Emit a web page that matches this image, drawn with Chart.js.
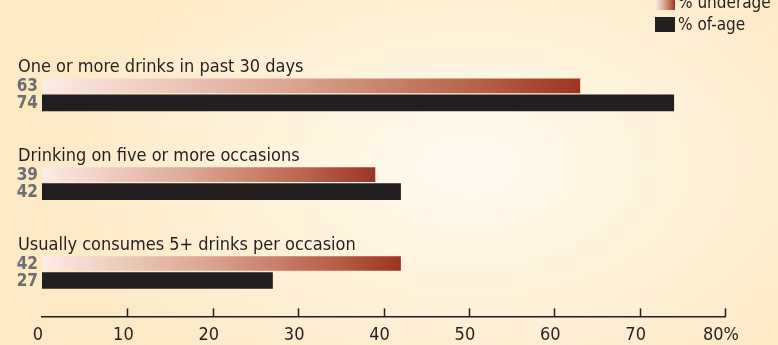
<!DOCTYPE html>
<html>
<head>
<meta charset="utf-8">
<script src="https://cdn.jsdelivr.net/npm/chart.js@4/dist/chart.umd.min.js"></script>
<style>
  html, body { margin: 0; padding: 0; }
  body {
    width: 778px; height: 345px; overflow: hidden;
    background: radial-gradient(ellipse 430px 260px at 470px 165px, #fffaf1 0%, #fff3dc 45%, #fde9c4 100%);
  }
  #wrap { position: relative; width: 778px; height: 345px; overflow: hidden; }
</style>
</head>
<body>
<div id="wrap"><canvas id="chart" width="778" height="354"></canvas></div>
<script>
const categories = [
  'One or more drinks in past 30 days',
  'Drinking on five or more occasions',
  'Usually consumes 5+ drinks per occasion'
];
const underage = [63, 39, 42];
const ofAge = [74, 42, 27];
const tickValues = [0, 10, 20, 30, 40, 50, 60, 70, 80];
const seriesNames = ['% underage', '% of-age'];

const FONT = '"DejaVu Sans Condensed", "Liberation Sans Narrow", sans-serif';
const INK = '#231f20';

function redGradient(c, x0, x1) {
  const g = c.createLinearGradient(x0, 0, x1, 0);
  g.addColorStop(0, '#fcece6');
  g.addColorStop(0.45, '#dca793');
  g.addColorStop(0.8, '#b9624a');
  g.addColorStop(1, '#9c3424');
  return g;
}

// labels over each group, values left of each bar, legend, axis ticks
const decorate = {
  id: 'decorate',
  afterDatasetsDraw(chart) {
    const c = chart.ctx;
    const xs = chart.scales.x;
    const m0 = chart.getDatasetMeta(0);
    const m1 = chart.getDatasetMeta(1);
    c.save();
    categories.forEach((cat, i) => {
      const b0 = m0.data[i], b1 = m1.data[i];
      c.fillStyle = INK;
      c.font = '18px ' + FONT;
      c.textAlign = 'left';
      c.textBaseline = 'alphabetic';
      c.fillText(cat, 18, b0.y - b0.height / 2 - 7);
      c.fillStyle = '#6d6e71';
      c.font = 'bold 17px ' + FONT;
      c.textAlign = 'right';
      c.textBaseline = 'middle';
      c.fillText(String(underage[i]), 38, b0.y + 1);
      c.fillText(String(ofAge[i]), 38, b1.y + 1);
    });
    // tick marks pointing up from the axis
    const y = chart.chartArea.bottom;
    c.strokeStyle = INK;
    c.lineWidth = 1.5;
    xs.ticks.forEach((t, i) => {
      if (i === 0) return;
      const x = Math.round(xs.getPixelForTick(i)) + 0.5;
      c.beginPath();
      c.moveTo(x, y);
      c.lineTo(x, y - 8);
      c.stroke();
    });
    // legend
    c.fillStyle = redGradient(c, 655, 675);
    c.fillRect(655, -4, 20, 14);
    c.fillStyle = INK;
    c.fillRect(655, 17, 20, 15);
    c.font = '17px ' + FONT;
    c.textAlign = 'left';
    c.textBaseline = 'alphabetic';
    c.fillText(seriesNames[0], 678, 8);
    c.fillText(seriesNames[1], 678, 30);
    c.restore();
  }
};

new Chart(document.getElementById('chart'), {
  type: 'bar',
  data: {
    labels: categories,
    datasets: [
      {
        label: seriesNames[0],
        data: underage,
        barThickness: 17,
        maxBarThickness: 14,
        backgroundColor: ctx => {
          const ch = ctx.chart;
          if (!ch.chartArea) return '#c07058';
          const xs = ch.scales.x;
          return redGradient(ch.ctx, xs.getPixelForValue(0), xs.getPixelForValue(ctx.raw));
        }
      },
      {
        label: seriesNames[1],
        data: ofAge,
        barThickness: 17,
        maxBarThickness: 16,
        backgroundColor: INK
      }
    ]
  },
  options: {
    indexAxis: 'y',
    responsive: false,
    animation: false,
    layout: { padding: { left: 42, right: 53, top: 50, bottom: 0 } },
    plugins: {
      legend: { display: false },
      tooltip: { enabled: false }
    },
    scales: {
      y: { display: false },
      x: {
        min: 0,
        max: 80,
        afterBuildTicks: axis => { axis.ticks = tickValues.map(v => ({ value: v })); },
        grid: { display: false, drawTicks: false, tickLength: 0 },
        border: { display: true, color: INK, width: 1.5 },
        ticks: {
          color: INK,
          padding: 8,
          labelOffset: -4,
          font: { family: FONT, size: 18 },
          callback: v => v === 80 ? '80%' : String(v)
        }
      }
    }
  },
  plugins: [decorate]
});
</script>
</body>
</html>
